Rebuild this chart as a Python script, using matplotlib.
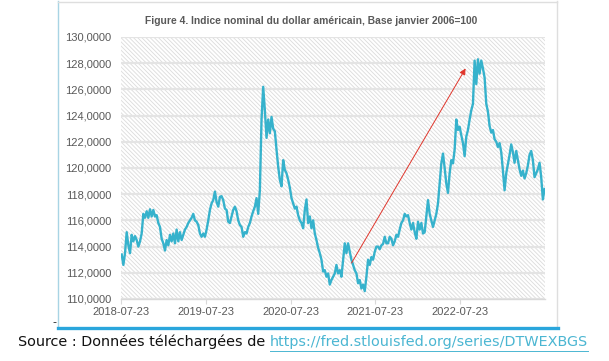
import numpy as np
import pandas as pd
import matplotlib
matplotlib.use('Agg')
import matplotlib.pyplot as plt
from matplotlib.patches import Rectangle
from matplotlib.lines import Line2D
from matplotlib.ticker import FuncFormatter, MultipleLocator

# ---- data ----
title = 'Figure 4. Indice nominal du dollar américain, Base janvier 2006=100'
first_date = '2018-07-26'
last_date = '2023-07-21'

v_2018 = [113.4, 112.6, 113.5, 115.1, 114.1, 113.5, 114.9, 114.4, 114.8, 114.5,
          114.0, 114.4, 115.0, 116.5, 116.2, 116.7, 116.2, 116.85, 116.3, 116.8,
          116.3, 116.4, 115.8, 115.5, 114.6, 114.25, 113.7, 114.5, 114.1, 114.9,
          114.4, 115.0, 114.25, 115.3, 114.4, 115.1, 114.5, 114.9, 115.3, 115.5,
          115.8, 116.0, 116.2, 116.5, 116.0, 115.9, 115.65]
v_2019 = [115.0, 114.75, 115.0, 114.75, 115.3, 116.0, 116.8, 117.3, 117.55, 118.2,
          117.4, 117.05, 117.8, 117.85, 117.55, 116.9, 116.8, 115.9, 115.8, 116.3,
          116.8, 117.05, 116.7, 116.0, 115.65, 115.5, 114.75, 115.1, 115.0, 115.5,
          115.8, 116.3, 116.7, 117.05, 117.7, 116.5, 118.3, 123.7, 126.2, 124.4,
          122.3, 123.7, 122.65, 123.9, 123.0, 122.8, 121.4, 120.1, 119.1, 118.6,
          120.6, 119.85, 119.6, 119.1, 118.5, 117.7, 117.3]
v_2020 = [116.9, 117.05, 116.4, 116.0, 115.8, 115.4, 116.8, 117.6, 115.8, 116.3,
          115.4, 116.0, 115.0, 114.5, 113.9, 113.5, 113.0, 112.1, 112.2, 111.7,
          111.95, 111.1, 111.45, 111.7, 111.95, 112.6, 111.95, 112.2, 111.7, 113.0,
          114.25, 113.5, 114.25, 113.6, 113.0, 112.6, 112.2, 111.95, 111.2, 111.45,
          110.8, 111.1, 110.6, 111.7, 113.0, 112.6, 113.2, 113.0, 113.6, 114.0,
          114.0, 113.8, 114.1, 114.2]
v_2021 = [114.75, 114.25, 114.25, 114.75, 114.6, 114.1, 114.4, 114.9, 114.75, 115.3,
          115.8, 116.0, 116.5, 116.3, 116.4, 115.8, 115.3, 115.8, 115.1, 114.6,
          115.9, 115.3, 115.8, 115.0, 115.1, 116.3, 117.55, 116.5, 116.0, 115.5,
          116.0, 116.5, 117.3, 118.8, 120.35, 121.1, 120.0, 118.8, 118.1, 119.6,
          120.6, 120.35, 121.4, 123.7, 122.9, 123.15, 122.5, 121.9, 120.9, 122.4,
          122.9, 123.7, 124.4, 124.9]
v_peak = [128.2, 126.4, 128.3, 127.2, 128.2, 127.6, 126.9]
v_2023 = [124.9, 124.3, 123.2, 122.7, 122.9, 122.2, 122.0, 121.6, 121.9, 121.2,
          119.8, 118.3, 119.6, 120.3, 121.0, 121.8, 121.2, 120.4, 121.3, 120.6,
          119.9, 119.4, 119.8, 119.2, 119.6, 120.2, 121.0, 121.3, 120.6, 119.3,
          119.6, 119.9, 120.4, 119.3, 117.6, 118.4]

tick_labels = ['2018-07-23', '2019-07-23', '2020-07-23', '2021-07-23', '2022-07-23']
x_start, x_end = '2018-07-23', '2023-07-23'
y_min, y_max = 110, 130

arrow_from = ('2021-04-11', 112.75)
arrow_to = ('2022-08-15', 127.6)

source_txt = 'Source : Données téléchargées de '
source_link = 'https://fred.stlouisfed.org/series/DTWEXBGS'

values = v_2018 + v_2019 + v_2020 + v_2021 + v_peak + v_2023
dates = pd.date_range(first_date, last_date, periods=len(values))

# ---- figure ----
W, H = 609, 361
fig = plt.figure(figsize=(W / 100, H / 100), dpi=100)
fig.patch.set_facecolor('white')


def fx(px):
    return px / W


def fy(py):
    return 1 - py / H


ax = fig.add_axes([fx(121), fy(299), fx(545) - fx(121), fy(37) - fy(299)])
ax.set_facecolor('white')

plt.rcParams['hatch.linewidth'] = 0.6
ax.add_patch(Rectangle((0, 0), 1, 1, transform=ax.transAxes, facecolor='none',
                       edgecolor='#dcdcdc', hatch='\\' * 8, lw=0, zorder=0))

ax.plot(dates, values, color='#36b2cc', lw=1.7, zorder=3, solid_joinstyle='round')

ax.annotate('', xy=(pd.Timestamp(arrow_to[0]), arrow_to[1]),
            xytext=(pd.Timestamp(arrow_from[0]), arrow_from[1]),
            arrowprops=dict(arrowstyle='-|>', color='#e0352b', lw=0.7,
                            mutation_scale=9, shrinkA=0, shrinkB=0), zorder=4)

ax.set_xlim(pd.Timestamp(x_start), pd.Timestamp(x_end))
ax.set_ylim(y_min, y_max)
ax.set_xticks(pd.to_datetime(tick_labels))
ax.set_xticklabels(tick_labels)
ax.yaxis.set_major_locator(MultipleLocator(2))
ax.yaxis.set_major_formatter(FuncFormatter(lambda v, p: f'{v:.4f}'.replace('.', ',')))

ax.grid(axis='y', color='#e4e4e4', lw=1.6, zorder=1)
ax.set_axisbelow(True)
for s in ['top', 'right', 'left']:
    ax.spines[s].set_visible(False)
ax.spines['bottom'].set_color('#d9d9d9')
ax.spines['bottom'].set_linewidth(1.0)

ax.tick_params(axis='y', length=0, pad=7, labelsize=8, labelcolor='#595959')
ax.tick_params(axis='x', length=3.5, width=0.8, color='#d9d9d9', pad=2.5,
               labelsize=8, labelcolor='#595959')
for lab in ax.get_xticklabels() + ax.get_yticklabels():
    lab.set_fontfamily('Liberation Sans')

fig.text(fx(311), fy(21), title, ha='center', va='center', fontsize=7.4,
         fontweight='bold', color='#595959', family='Liberation Sans')

# chart frame
fig.add_artist(Line2D([fx(58), fx(58)], [fy(328), fy(1)], color='#a8d4e4', lw=1.0))
fig.add_artist(Line2D([fx(58), fx(557)], [fy(1.5), fy(1.5)], color='#dedede', lw=1.0))
fig.add_artist(Line2D([fx(557), fx(557)], [fy(1), fy(328)], color='#dedede', lw=1.0))
fig.add_artist(Line2D([fx(58), fx(558)], [fy(328), fy(328)], color='#2aa6dc', lw=2.4))

fig.text(fx(54), fy(322), '-', ha='center', va='center', fontsize=8, color='#222222')

# source line, sized so it spans the same width as in the reference
renderer = fig.canvas.get_renderer()
fs = 9.6
t1 = fig.text(fx(18), fy(342), source_txt, ha='left', va='center', fontsize=fs,
              color='#111111', family='DejaVu Sans')
t2 = fig.text(0, fy(342), source_link, ha='left', va='center', fontsize=fs,
              color='#4bb6d2', family='DejaVu Sans')
for _ in range(3):
    bb = t1.get_window_extent(renderer=renderer)
    t2.set_x(bb.x1 / W)
    bb2 = t2.get_window_extent(renderer=renderer)
    fs = fs * (587 - 18) / (bb2.x1 - bb.x0)
    t1.set_fontsize(fs)
    t2.set_fontsize(fs)
bb = t1.get_window_extent(renderer=renderer)
t2.set_x(bb.x1 / W)
bb2 = t2.get_window_extent(renderer=renderer)
fig.add_artist(Line2D([bb2.x0 / W, bb2.x1 / W], [fy(351), fy(351)], color='#4bb6d2', lw=0.7))

fig.savefig('out.png', dpi=100, facecolor='white')
